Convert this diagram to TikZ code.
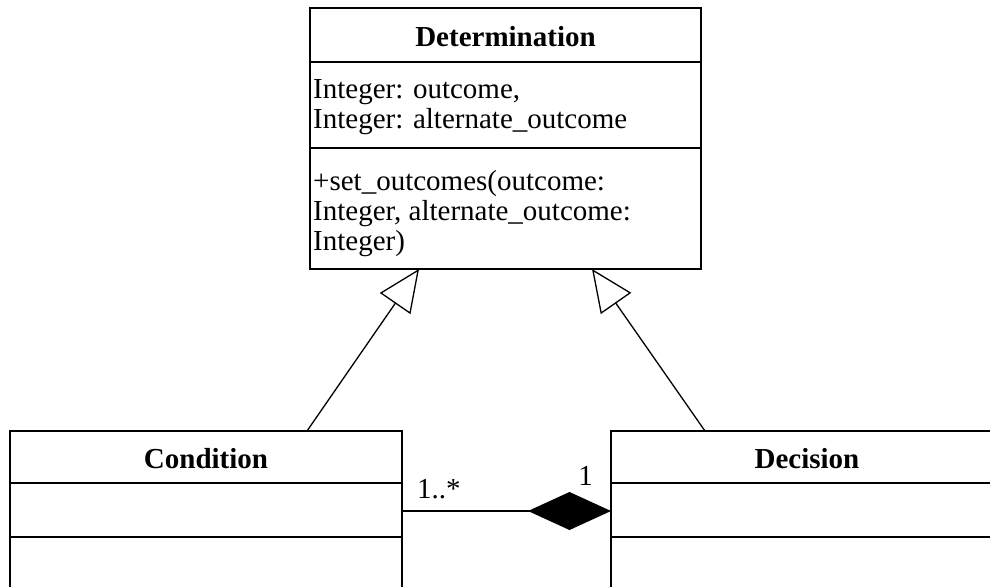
\documentclass[tikz,border=0pt]{standalone}
\usepackage{fontspec}
\setmainfont{Liberation Serif}
\usetikzlibrary{arrows.meta,calc}

\tikzset{
  umlbox/.style={draw=black, line width=1.3pt, fill=white, rectangle,
                 inner sep=0pt, outer sep=0pt, anchor=north west},
  divider/.style={draw=black, line width=1.3pt},
  classname/.style={font=\fontsize{29}{30}\selectfont\bfseries, inner sep=0pt},
  member/.style={font=\fontsize{29}{30}\selectfont, inner sep=0pt, anchor=base west},
  multlabel/.style={font=\fontsize{29}{30}\selectfont, inner sep=0pt},
  generalization/.style={line width=1.3pt,
     -{Triangle[length=42pt, width=37pt, fill=white, line join=miter]}},
  composition/.style={line width=1.3pt,
     -{Diamond[length=83pt, width=38pt]}}
}

\begin{document}
\begin{tikzpicture}[x=1pt, y=-1pt]
  \clip (0,0) rectangle (990,586);
  \fill[white] (0,0) rectangle (990,586);

  % Determination class
  \node[umlbox, minimum width=391pt, minimum height=261pt] (det) at (310,8) {};
  \draw[divider] (det.north west |- 0,62) -- (det.north east |- 0,62);
  \draw[divider] (det.north west |- 0,148) -- (det.north east |- 0,148);
  \node[classname] (dettitle) at (505.5,37) {Determination};
  \node[member] (attr1) at (313,98) {Integer: outcome,};
  \node[member] (attr2) at (313,128) {Integer: alternate\_outcome};
  \node[member] (op1) at (313,190) {+set\_outcomes(outcome:};
  \node[member] (op2) at (313,220) {Integer, alternate\_outcome:};
  \node[member] (op3) at (313,250) {Integer)};

  % Condition class
  \node[umlbox, minimum width=392pt, minimum height=200pt] (cond) at (10,431) {};
  \draw[divider] (cond.north west |- 0,483) -- (cond.north east |- 0,483);
  \draw[divider] (cond.north west |- 0,537) -- (cond.north east |- 0,537);
  \node[classname] (condtitle) at (206,459) {Condition};

  % Decision class
  \node[umlbox, minimum width=392pt, minimum height=200pt] (dec) at (611,431) {};
  \draw[divider] (dec.north west |- 0,483) -- (dec.north east |- 0,483);
  \draw[divider] (dec.north west |- 0,537) -- (dec.north east |- 0,537);
  \node[classname] (dectitle) at (807,459) {Decision};

  % Inheritance
  \coordinate (condup) at ($(cond.north west)+(297,0)$);
  \coordinate (decup) at ($(dec.north west)+(94,0)$);
  \coordinate (detleft) at ($(det.south west)+(109,0)$);
  \coordinate (detright) at ($(det.south west)+(282,0)$);
  \draw[generalization] (condup) -- (detleft);
  \draw[generalization] (decup) -- (detright);

  % Composition
  \coordinate (compfrom) at ($(cond.north east)+(0,80)$);
  \coordinate (compto) at ($(dec.north west)+(0,80)$);
  \draw[composition] (compfrom) -- (compto);
  \node[multlabel, anchor=base west] (mult1) at (417,498) {1..*};
  \node[multlabel, anchor=base east] (mult2) at (593,485) {1};
\end{tikzpicture}
\end{document}
